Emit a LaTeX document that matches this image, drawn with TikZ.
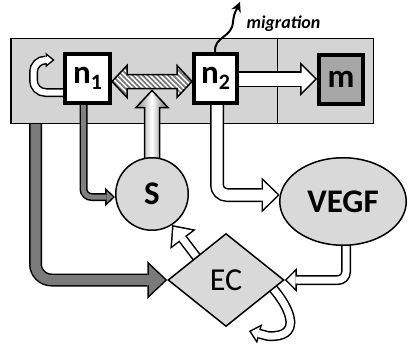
\documentclass[tikz,border=0pt]{standalone}
\usepackage{fontspec}
\setmainfont{Carlito}
\usetikzlibrary{arrows.meta,calc,shapes.geometric,patterns.meta}
\pgfdeclarelayer{bg}
\pgfdeclarelayer{arrowlayer}
\pgfsetlayers{bg,arrowlayer,main}
\tikzset{
  cellbox/.style={draw, line width=1.5pt, fill=black!17, inner sep=0pt},
  gene/.style={draw, line width=4pt, fill=white, inner sep=0pt,
    font=\bfseries\fontsize{33}{33}\selectfont},
  blob/.style={draw, line width=1.5pt, fill=black!15, inner sep=0pt,
    font=\bfseries\fontsize{33}{33}\selectfont},
  hatch/.style={draw, line width=1.5pt, preaction={fill=white},
    pattern={Lines[angle=-45,distance=3.6pt,line width=1.7pt]}, pattern color=black!55},
  % outlined block arrow: #1 fill colour, #2 shaft width, #3 head width, #4 head length
  fat/.code n args={4}{%
    \pgfmathsetmacro\fatD{1.5*sqrt((#4)^2+((#3)/2)^2)/((#3)/2)}%
    \pgfmathsetmacro\fatL{#4-1.5-\fatD}%
    \pgfmathsetmacro\fatH{(#3)*\fatL/(#4)}%
    \pgfmathsetmacro\fatW{#2+3}%
    \pgfkeysalso{
      preaction={draw=black, line width=\fatW pt, shorten >=0pt,
        -{Triangle[length=#4pt,width=#3pt,line width=0pt]}},
      draw=#1, line width=#2pt, shorten >=\fatD pt,
      -{Triangle[length=\fatL pt,width=\fatH pt,line width=0pt]}}%
  },
}
\begin{document}
\begin{tikzpicture}[x=1pt,y=-1pt]
\useasboundingbox (0,0) rectangle (409,345);

% compartment
\begin{pgfonlayer}{bg}
  \node[cellbox, anchor=north west, minimum width=362.5pt, minimum height=84.5pt] (cell) at (10,38) {};
  \draw[line width=1.2pt] ($(cell.north west)!0.734!(cell.north east)$) -- ($(cell.south west)!0.734!(cell.south east)$);
\end{pgfonlayer}

% nodes
\node[gene, minimum width=45pt, minimum height=49pt] (n1) at (87.5,78.5)
  {n\raisebox{-6pt}{\fontsize{22}{22}\selectfont 1}};
\node[gene, minimum width=43pt, minimum height=49pt] (n2) at (215.5,78.5)
  {n\raisebox{-6pt}{\fontsize{22}{22}\selectfont 2}};
\node[gene, fill=black!35, minimum width=44pt, minimum height=49pt] (m) at (341,79.5) {m};
\node[blob, circle, minimum size=72.5pt] (S) at (152,194) {S};
\node[blob, ellipse, minimum width=126.5pt, minimum height=87.5pt] (VEGF) at (343,201.5) {VEGF};
\node[blob, diamond, minimum width=116pt, minimum height=93pt,
  font=\fontsize{32}{32}\selectfont] (EC) at (226,280) {EC};

\node[font=\bfseries\itshape\fontsize{18}{18}\selectfont, anchor=base west] (migl) at (243,28.5) {migration};

\begin{pgfonlayer}{arrowlayer}
  % self-renewal of n1
  \draw[fat={white}{6}{15}{9}, rounded corners=12pt]
    ($(n1.west)+(0,14)$) -- ++(-29.5,0) -- ++(0,-32.5) -- ++(21,0);

  % exchange between n1 and n2
  \coordinate (hl) at ($(n1.east)+(0,3)$);
  \coordinate (hr) at ($(n2.west)+(0,3)$);
  \draw[hatch] (hl) -- ++(15,-16) -- ++(0,9) -- ($(hr)+(-15,-7)$) -- ++(0,-9) -- (hr)
    -- ++(-15,16) -- ++(0,-9) -- ($(hl)+(15,7)$) -- ++(0,9) -- cycle;

  % S acting on the exchange
  \coordinate (gtip) at ($(hl)!.5!(hr)+(0,9)$);
  \shade[draw, line width=1.5pt, left color=black!45, right color=black!60, middle color=white]
    (gtip) -- ++(16,17) -- ++(-8.5,0) -- ($(S.north)+(7.5,6)$) -- ($(S.north)+(-7.5,6)$)
    -- ($(gtip)+(-7.5,17)$) -- ++(-8.5,0) -- cycle;

  % n1 -> S
  \draw[fat={black!50}{5}{19}{10}, rounded corners=8pt]
    ($(n1.south)+(-4,0)$) |- ($(S.west)+(0,3)$);

  % compartment -> EC
  \draw[fat={black!52}{10}{38}{20}, rounded corners=16pt]
    ($(cell.south west)+(25.5,0)$) |- (EC.west);

  % n2 -> VEGF
  \draw[fat={white}{11}{35}{18}, rounded corners=10pt]
    ($(n2.south)+(1.5,0)$) |- ($(VEGF.west)+(0.7,-6.5)$);

  % n2 -> m
  \draw[fat={white}{13}{34}{17}] ($(n2.east)+(0,0.5)$) -- ($(m.west)+(0,-0.5)$);

  % VEGF -> EC
  \draw[fat={white}{7}{24}{12}, rounded corners=8pt]
    ($(VEGF.south)+(3,-1)$) |- (EC.east);

  % EC -> S
  \draw[fat={white}{7}{32}{18}] ($(EC.west)!0.49!(EC.north)!0.03!(EC.center)$) -- (S.-57);

  % EC self-loop
  \coordinate (ecend) at (249,331);
  \draw[fat={white}{7}{20}{11}]
    ($(EC.east)!0.17!(EC.south)!0.05!(EC.center)$) .. controls (292,310) and (302,338) .. (268,336) -- (ecend);

  % migration
  \coordinate (migtip) at (240,2);
  \draw[line width=2pt, -{Stealth[length=10pt,width=10pt]}]
    ($(n2.north)+(-0.5,0)$) .. controls (214,36) and (232,38) .. (233,22)
    .. controls (234,12) and (237,9) .. (migtip);
\end{pgfonlayer}
\end{tikzpicture}
\end{document}
